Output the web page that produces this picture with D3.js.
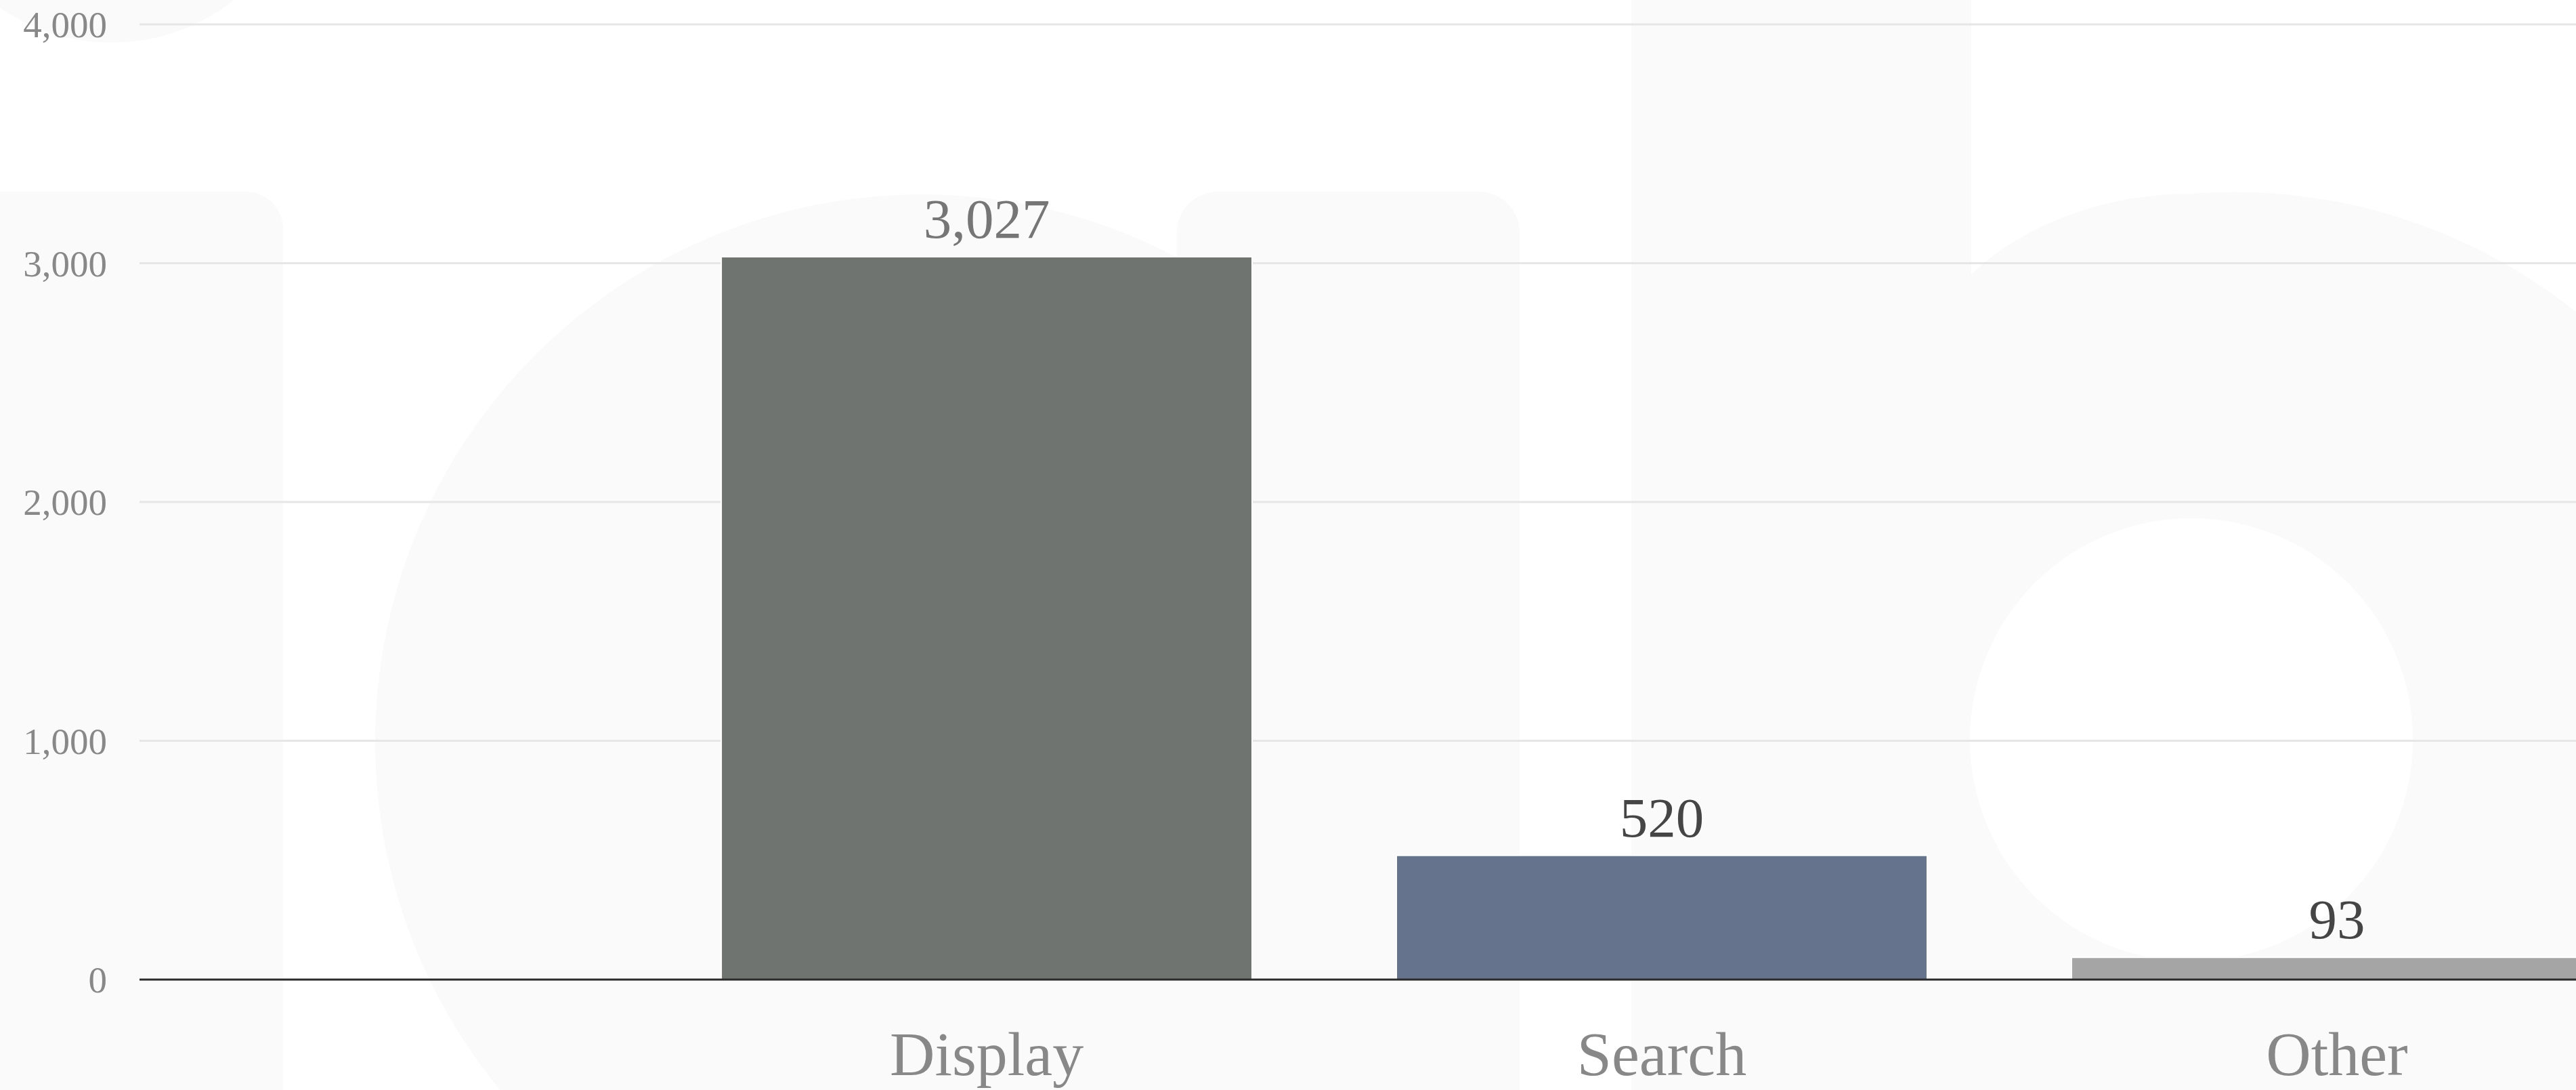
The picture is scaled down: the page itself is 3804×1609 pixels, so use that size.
<!DOCTYPE html>
<html>
<head>
<meta charset="utf-8">
<script src="https://cdn.jsdelivr.net/npm/d3@7"></script>
<style>
  html, body { margin: 0; padding: 0; background: #ffffff; }
  svg { display: block; }
  text { font-family: "Liberation Serif", "DejaVu Serif", serif; }
</style>
</head>
<body>
<svg id="chart" width="3804" height="1609"></svg>
<script>
// Ad revenue by format
const categories = ["Display", "Search", "Other"];
const values = [3027, 520, 93];
const barColors = ["#6f7471", "#66738c", "#a5a5a5"];
const valueLabelColors = ["#767676", "#454545", "#454545"];
const yTicks = [0, 1000, 2000, 3000, 4000];

const W = 3804, H = 1609;
const svg = d3.select("#chart");

// Faint logo watermark behind the plot
const wm = svg.append("g").attr("fill", "#fafafa");
wm.append("circle").attr("cx", 165).attr("cy", -227).attr("r", 290);           // i dot
wm.append("rect").attr("x", -85).attr("y", 283).attr("width", 503).attr("height", 1500).attr("rx", 55); // i stem
wm.append("circle").attr("cx", 1362).attr("cy", 1095).attr("r", 808);          // a bowl
wm.append("rect").attr("x", 1738).attr("y", 283).attr("width", 506).attr("height", 1500).attr("rx", 60); // a stem
wm.append("rect").attr("x", 2409).attr("y", -200).attr("width", 502).attr("height", 2000).attr("rx", 55); // b stem
wm.append("path")                                                               // b bowl
  .attr("d", "M2911,405 C2990,330 3110,286 3236,286 A808,808 0 1 1 2911,1800 Z");
svg.append("circle")                                                            // b counter
  .attr("cx", 3236).attr("cy", 1092).attr("r", 327).attr("fill", "#ffffff");

// Scales
const plotLeft = 206;
const y = d3.scaleLinear().domain([0, 4000]).range([1446, 36]);
const x = d3.scaleBand()
  .domain(categories)
  .range([958.5, 3949.5])
  .paddingInner(0.2137)
  .paddingOuter(0.1069);

// Gridlines
svg.append("g")
  .selectAll("line")
  .data(yTicks.filter(d => d > 0))
  .join("line")
  .attr("x1", plotLeft).attr("x2", W)
  .attr("y1", d => y(d)).attr("y2", d => y(d))
  .attr("stroke", "#e6e6e6")
  .attr("stroke-width", 3);

// Y axis labels
const yAxis = d3.axisLeft(y)
  .tickValues(yTicks)
  .tickFormat(d3.format(","))
  .tickSize(0)
  .tickPadding(0);
const yG = svg.append("g").attr("transform", "translate(158,0)").call(yAxis);
yG.select(".domain").remove();
yG.selectAll("text")
  .attr("fill", "#888888")
  .attr("font-size", 55)
  .attr("dy", "0.34em")
  .style("font-family", "'Liberation Serif', serif");

// Bars
svg.append("g")
  .selectAll("rect")
  .data(categories)
  .join("rect")
  .attr("x", d => x(d))
  .attr("y", (d, i) => y(values[i]))
  .attr("width", x.bandwidth())
  .attr("height", (d, i) => y(0) - y(values[i]))
  .attr("fill", (d, i) => barColors[i])
  .attr("stroke", "#ffffff")
  .attr("stroke-width", 2);

// Baseline
svg.append("line")
  .attr("x1", plotLeft).attr("x2", W)
  .attr("y1", y(0)).attr("y2", y(0))
  .attr("stroke", "#2b2b2b")
  .attr("stroke-width", 3);

// Value labels
svg.append("g")
  .selectAll("text")
  .data(categories)
  .join("text")
  .attr("x", d => x(d) + x.bandwidth() / 2)
  .attr("y", (d, i) => y(values[i]) - 28)
  .attr("text-anchor", "middle")
  .attr("font-size", 83)
  .attr("fill", (d, i) => valueLabelColors[i])
  .text((d, i) => d3.format(",")(values[i]));

// Category axis
const xAxis = d3.axisBottom(x).tickSize(0).tickPadding(0);
const xG = svg.append("g").attr("transform", `translate(0,${y(0)})`).call(xAxis);
xG.select(".domain").remove();
xG.selectAll("text")
  .attr("y", 141)
  .attr("dy", 0)
  .attr("fill", "#888888")
  .attr("font-size", 92)
  .style("font-family", "'Liberation Serif', serif");
</script>
</body>
</html>
